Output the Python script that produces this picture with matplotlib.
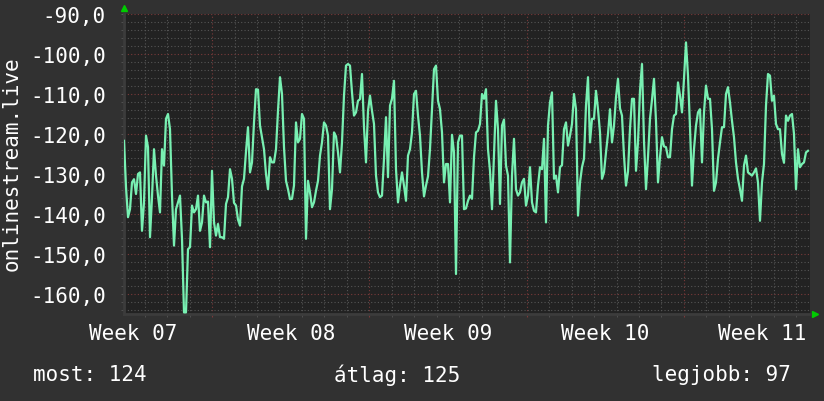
import numpy as np
import matplotlib
matplotlib.use("Agg")
import matplotlib.pyplot as plt
from matplotlib.ticker import FixedLocator, MultipleLocator, FuncFormatter

# ping readings (ms), one sample about every 2.1 hours
latency = [
    121.7, 133.3, 140.8, 138.8, 132.1, 131.3, 135.0, 130.0, 129.6, 144.2,
    137.1, 120.4, 123.3, 145.8, 135.8, 123.8, 130.4, 135.4, 139.6, 123.8,
    127.9, 116.2, 115.0, 118.8, 135.4, 147.9, 138.8, 137.1, 135.4, 146.2,
    164.6, 164.6, 148.8, 148.3, 137.9, 139.6, 138.8, 135.4, 144.2, 142.1,
    135.4, 137.1, 136.9, 148.3, 129.2, 142.1, 145.4, 142.5,
    145.8, 145.8, 146.2, 137.5, 135.8, 128.8, 131.2, 137.2, 137.9, 141.4,
    142.9, 133.1, 131.2, 124.4, 118.3, 129.6, 127.1, 117.1, 108.8, 108.9,
    117.9, 120.8, 123.8, 130.0, 133.8, 125.8, 127.1, 127.1, 123.8, 114.2,
    105.8, 110.0, 123.3, 131.7, 133.8, 136.3, 136.2, 132.9, 117.1, 122.1,
    121.2, 115.0, 116.2, 146.2, 131.7, 134.6, 138.3, 137.1, 134.2,
    131.7, 125.4, 122.1, 117.1, 117.9, 120.4, 138.8, 133.8, 119.6, 120.6,
    124.6, 129.6, 122.1, 110.4, 102.9, 102.5, 102.9, 109.6, 115.4, 114.6,
    111.7, 111.3, 105.0, 118.3, 127.1, 114.2, 110.4, 114.2, 117.5, 130.4,
    134.6, 135.8, 135.4, 126.2, 115.8, 130.8, 112.9, 111.2, 106.7, 128.8,
    137.1, 132.9, 129.6, 132.9, 136.7, 125.4, 123.8, 119.6, 110.0,
    109.2, 115.4, 120.4, 129.6, 135.6, 132.9, 130.6, 123.8, 113.8, 103.8,
    102.9, 111.7, 113.8, 119.6, 132.1, 127.5, 127.5, 137.1, 120.2, 124.6,
    155.0, 122.1, 120.4, 120.4, 138.8, 138.6, 136.7, 135.4, 136.2, 125.8,
    119.6, 119.2, 117.5, 110.0, 111.2, 108.8, 123.8, 129.2, 138.8, 125.4,
    111.7, 118.8, 137.5, 117.9, 116.4, 127.9, 130.4, 152.1, 130.4,
    121.2, 133.8, 135.4, 134.6, 132.1, 131.2, 137.9, 135.4, 128.3, 137.1,
    139.2, 139.6, 132.9, 128.3, 128.8, 121.2, 142.1, 117.9, 112.1, 109.6,
    131.2, 130.4, 134.6, 128.3, 127.8, 118.8, 117.1, 122.9, 120.4, 117.5,
    110.0, 113.8, 140.4, 132.1, 128.3, 126.2, 112.9, 105.8, 122.1, 116.2,
    116.2, 109.2, 113.8, 119.6, 131.2, 129.6, 124.6, 120.0, 113.8,
    122.1, 117.9, 110.8, 106.2, 113.6, 115.4, 125.4, 132.9, 129.4, 118.8,
    111.2, 111.2, 129.2, 122.1, 109.2, 102.5, 121.7, 133.8, 125.8, 116.2,
    111.4, 106.2, 116.7, 132.1, 125.8, 120.8, 123.1, 123.3, 125.8, 125.8,
    118.8, 115.4, 115.0, 107.1, 110.4, 114.6, 106.2, 97.1, 105.4, 118.3,
    132.9, 123.8, 117.9, 114.6, 113.8, 127.1, 114.6, 107.9, 111.2,
    111.2, 118.8, 134.2, 132.1, 126.2, 122.1, 118.3, 118.3, 110.0, 108.3,
    112.1, 116.7, 120.8, 127.1, 131.2, 133.8, 136.7, 127.9, 125.4, 129.6,
    130.0, 130.4, 129.6, 128.6, 132.1, 141.7, 132.1, 127.5, 112.9, 105.0,
    105.4, 111.7, 110.4, 117.5, 118.8, 118.8, 125.0, 127.2, 115.4, 116.7,
    115.4, 115.0, 120.0, 133.8, 123.8, 128.3, 127.5, 127.1, 124.6, 124.2,
]
week_labels = ["Week 07", "Week 08", "Week 09", "Week 10", "Week 11"]
week_starts = [3.92, 10.92, 17.92, 24.92]   # days from left edge
stat_names = ["most", "átlag", "legjobb"]
stat_values = [124, 125, 97]
sample_days = 2 / 22.47
span_days = 30.53

plt.rcParams['font.family'] = ['DejaVu Sans Mono']
fs = 15

fig = plt.figure(figsize=(8.24, 4.02), dpi=100, facecolor='#313131')
ax = fig.add_axes([124 / 824, 87 / 402, 686 / 824, 300 / 402], facecolor='#222222')

t = np.arange(len(latency)) * sample_days
ax.plot(t, -np.array(latency), color='#78f0b2', lw=1.6, zorder=3)

ax.set_xlim(0, span_days)
ax.set_ylim(-165, -90)

# grid: days / 2 ms minor, weeks / 10 ms major
ax.xaxis.set_major_locator(FixedLocator(week_starts))
ax.xaxis.set_minor_locator(FixedLocator(np.arange(0.92, span_days, 1.0)))
ax.yaxis.set_major_locator(MultipleLocator(10))
ax.yaxis.set_minor_locator(MultipleLocator(2))
ax.grid(which='minor', color='#555555', linestyle=(0, (1, 2)), lw=0.8)
ax.grid(which='major', color='#7a3a3a', linestyle=(0, (1, 2)), lw=0.8)
ax.set_axisbelow(True)

ax.yaxis.set_major_formatter(FuncFormatter(lambda v, p: f"{v:.1f}".replace('.', ',')))
ax.set_xticklabels([])
ax.tick_params(which='both', color='#555555', length=2, labelcolor='white', labelsize=fs)
ax.tick_params(axis='x', which='major', color='#7a3a3a')
ax.tick_params(axis='y', pad=11)

for s in ['top', 'right']:
    ax.spines[s].set_visible(False)
for s in ['left', 'bottom']:
    ax.spines[s].set_color('#3c3c3c')
    ax.spines[s].set_linewidth(2)

# week labels in the middle of each week
centers = [week_starts[0] - 3.5 + 7 * i for i in range(len(week_labels))]
for c, lab in zip(centers, week_labels):
    ax.text(c, -0.03, lab, transform=ax.get_xaxis_transform(), ha='center', va='top',
            color='white', fontsize=fs)

# rrdtool style arrows
ax.plot([0], [1.02], marker='^', color='#00cc00', ms=5, transform=ax.transAxes, clip_on=False)
ax.plot([1.008], [0], marker='>', color='#00cc00', ms=5, transform=ax.transAxes, clip_on=False)

fig.text(12 / 824, 1 - 164 / 402, 'onlinestream.live', rotation=90, ha='center', va='center',
         color='white', fontsize=fs)

fig.text(33 / 824, 1 - 375 / 402, f"{stat_names[0]}: {stat_values[0]}", va='center',
         color='white', fontsize=fs)
fig.text(334 / 824, 1 - 375 / 402, f"{stat_names[1]}: {stat_values[1]}", va='center',
         color='white', fontsize=fs)
fig.text(791 / 824, 1 - 375 / 402, f"{stat_names[2]}: {stat_values[2]}", va='center', ha='right',
         color='white', fontsize=fs)

fig.savefig("out.png", dpi=100, facecolor=fig.get_facecolor())
